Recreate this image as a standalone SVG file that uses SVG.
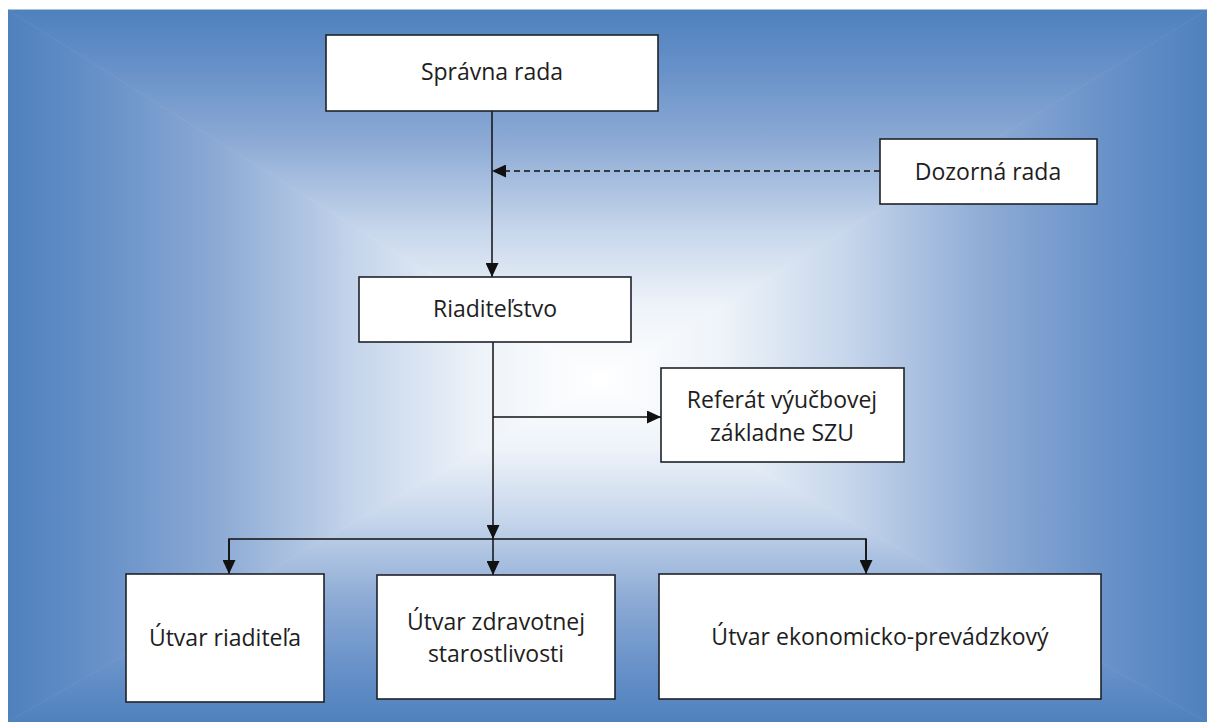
<svg xmlns="http://www.w3.org/2000/svg" width="1207" height="722" viewBox="0 0 1207 722">
  <defs>
    <linearGradient id="gT" gradientUnits="userSpaceOnUse" x1="0" y1="380" x2="0" y2="10">
      <stop offset="0" stop-color="#ffffff"/>
      <stop offset="0.2" stop-color="#eef3f9"/>
      <stop offset="0.4" stop-color="#c8d7ec"/>
      <stop offset="0.65" stop-color="#8ba9d4"/>
      <stop offset="0.85" stop-color="#6690c8"/>
      <stop offset="1" stop-color="#4f81bd"/>
    </linearGradient>
    <linearGradient id="gB" href="#gT" x1="0" y1="380" x2="0" y2="722"/>
    <linearGradient id="gL" href="#gT" x1="600" y1="0" x2="8" y2="0"/>
    <linearGradient id="gR" href="#gT" x1="600" y1="0" x2="1207" y2="0"/>
    <marker id="arr" viewBox="0 0 14 13" refX="14" refY="6.5" markerWidth="14" markerHeight="13" markerUnits="userSpaceOnUse" orient="auto">
      <path d="M0,0 L14,6.5 L0,13 Z" fill="#111"/>
    </marker>
  </defs>
  <style>
    .box { fill: #ffffff; stroke: #1e2228; stroke-width: 1.6; }
    .lbl { font-family: "Open Sans", "Liberation Sans", sans-serif; font-size: 23px; fill: #1e1e1e; text-anchor: middle; }
    .ln { fill: none; stroke: #111; stroke-width: 1.5; }
    .arrow { marker-end: url(#arr); }
    .dash { stroke-dasharray: 6 4; }
  </style>
  <rect x="0" y="0" width="1207" height="722" fill="#ffffff"/>
  <g id="background">
    <polygon points="8,10 1207,10 600,380" fill="url(#gT)" stroke="url(#gT)" stroke-width="1"/>
    <polygon points="8,722 1207,722 600,380" fill="url(#gB)" stroke="url(#gB)" stroke-width="1"/>
    <polygon points="8,10 8,722 600,380" fill="url(#gL)"/>
    <polygon points="1207,10 1207,722 600,380" fill="url(#gR)"/>
  </g>

  <g id="connectors">
    <line class="ln arrow" x1="492" y1="111" x2="492" y2="277"/>
    <line class="ln arrow dash" x1="880" y1="171" x2="492" y2="171"/>
    <line class="ln arrow" x1="493" y1="342" x2="493" y2="539"/>
    <line class="ln arrow" x1="493" y1="417" x2="661" y2="417"/>
    <polyline class="ln" points="229,560 229,539 866,539 866,560"/>
    <line class="ln arrow" x1="229" y1="539" x2="229" y2="574"/>
    <line class="ln arrow" x1="493" y1="539" x2="493" y2="575"/>
    <line class="ln arrow" x1="866" y1="539" x2="866" y2="574"/>
  </g>

  <g id="spravna-rada">
    <rect class="box" x="326" y="35" width="332" height="76"/>
    <text class="lbl" x="492" y="80">Správna rada</text>
  </g>
  <g id="dozorna-rada">
    <rect class="box" x="880" y="139" width="217" height="65"/>
    <text class="lbl" x="988" y="180">Dozorná rada</text>
  </g>
  <g id="riaditelstvo">
    <rect class="box" x="359" y="277" width="272" height="65"/>
    <text class="lbl" x="495" y="317">Riaditeľstvo</text>
  </g>
  <g id="referat">
    <rect class="box" x="661" y="368" width="243" height="94"/>
    <text class="lbl" x="782" y="408">Referát výučbovej</text>
    <text class="lbl" x="782" y="441">základne SZU</text>
  </g>
  <g id="utvar-riaditela">
    <rect class="box" x="126" y="574" width="198" height="128"/>
    <text class="lbl" x="225" y="646">Útvar riaditeľa</text>
  </g>
  <g id="utvar-zdravotnej">
    <rect class="box" x="377" y="575" width="238" height="124"/>
    <text class="lbl" x="496" y="630">Útvar zdravotnej</text>
    <text class="lbl" x="496" y="662">starostlivosti</text>
  </g>
  <g id="utvar-ekonomicko">
    <rect class="box" x="659" y="574" width="442" height="125"/>
    <text class="lbl" x="880" y="645">Útvar ekonomicko-prevádzkový</text>
  </g>
</svg>
